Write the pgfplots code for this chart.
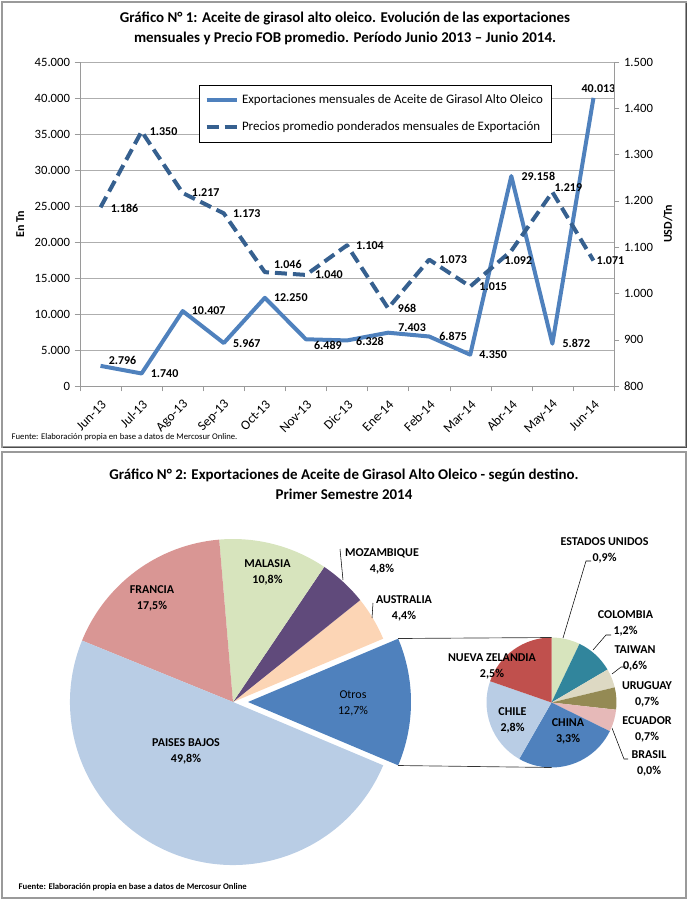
\documentclass[border=0pt]{standalone}
\usepackage{fontspec}
\setmainfont{Carlito}
\usepackage{pgfplots}
\pgfplotsset{compat=1.18}

\definecolor{cExp}{HTML}{4F81BD}
\definecolor{cPre}{HTML}{36608F}
\definecolor{cPB}{HTML}{B9CDE5}
\definecolor{cFra}{HTML}{D99694}
\definecolor{cMal}{HTML}{D7E4BD}
\definecolor{cMoz}{HTML}{604A7B}
\definecolor{cAus}{HTML}{FCD5B5}
\definecolor{cOtros}{HTML}{4F81BD}
\definecolor{cCol}{HTML}{31859C}
\definecolor{cTai}{HTML}{DDD9C3}
\definecolor{cUru}{HTML}{948A54}
\definecolor{cEcu}{HTML}{E6B9B8}
\definecolor{cNZ}{HTML}{C0504D}
\definecolor{cFrame}{HTML}{9A9A9A}

\tikzset{
  lab/.style={font=\bfseries\fontsize{9}{10}\selectfont, inner sep=0pt},
  plab/.style={font=\bfseries\fontsize{9}{12}\selectfont, align=center, inner sep=0pt},
  expline/.style={cExp, line width=3pt, line join=round},
  preline/.style={cPre, line width=3pt, line join=round, dash pattern=on 9pt off 4.5pt},
}
\pgfplotsset{
  lineaxis/.style={
    at={(60pt,386.25pt)}, anchor=south west, scale only axis,
    width=400.5pt, height=243pt, xmin=-0.5, xmax=12.5, clip=false,
    tick align=outside, major tick length=4pt, minor tick length=4pt,
    tick style={cFrame}, axis line style={cFrame, line width=0.6pt},
    scaled y ticks=false,
    tick label style={font=\fontsize{9.5}{11}\selectfont},
    yticklabel style={/pgf/number format/1000 sep={.}, /pgf/number format/assume math mode=true},
  },
}
% label: x, y, text, dx(px), dy(px, down)
\newcommand\lbl[5]{\node[lab, xshift={(#4)*0.75pt}, yshift={-(#5)*0.75pt}] at (axis cs:#1,#2) {#3};}

\begin{document}
\begin{tikzpicture}
\path[use as bounding box] (0,0) rectangle (516pt,675.75pt);

% canvas in pixel units: frames, titles and the pie of pie
\begin{axis}[at={(0pt,675.75pt)}, anchor=origin, x=0.75pt, y=0.75pt, y dir=reverse,
  xmin=0, xmax=688, ymin=0, ymax=901, hide axis, scale only axis, clip=false]
\draw[cFrame, line width=0.8pt] (2,2) rectangle (686,447);
\draw[black!70, line width=0.9pt] (3,447.5) -- (686.5,447.5) -- (686.5,3);
\draw[cFrame, line width=0.8pt] (2,452) rectangle (686,898);

\node[font=\bfseries\fontsize{11.2}{15}\selectfont, align=center] at (345,28)
  {Gráfico N° 1: Aceite de girasol alto oleico. Evolución de las exportaciones\\
   mensuales y Precio FOB promedio. Período Junio 2013 – Junio 2014.};
\node[anchor=west, font=\fontsize{6.5}{7}\selectfont] at (7,437)
  {Fuente: Elaboración propia en base a datos de Mercosur Online.};

\node[font=\bfseries\fontsize{11.2}{15}\selectfont, align=center] at (344,484)
  {Gráfico N° 2: Exportaciones de Aceite de Girasol Alto Oleico - según destino.\\
   Primer Semestre 2014};
\node[anchor=west, font=\bfseries\fontsize{6.5}{7}\selectfont] at (14,887)
  {Fuente: Elaboración propia en base a datos de Mercosur Online};

% main pie (percent), counter-clockwise from Otros, centred at 3 o'clock
\def\ang{-22.86}
\foreach \v/\c/\dx in {12.7/cOtros/15, 4.4/cAus/0, 4.8/cMoz/0, 10.8/cMal/0, 17.5/cFra/0, 49.8/cPB/0}{
  \pgfmathsetmacro\b{\ang+3.6*\v}
  \pgfmathsetmacro\cx{233+\dx}
  \edef\temp{\noexpand\fill[\c] (axis cs:\cx,702) -- ++(\ang:122.25pt)
    arc[start angle=\ang, end angle=\b, radius=122.25pt] -- cycle;}
  \temp
  \global\let\ang\b
}
% secondary pie (Otros = 12,7%), clockwise from 12 o'clock
\def\ang{90}
\foreach \v/\c in {0.9/cMal, 1.2/cCol, 0.6/cTai, 0.7/cUru, 0.7/cEcu, 0.0/cEcu, 3.3/cExp, 2.8/cPB, 2.5/cNZ}{
  \pgfmathsetmacro\b{\ang-360*\v/12.7}
  \edef\temp{\noexpand\fill[\c] (axis cs:551.5,702.5) -- ++(\ang:48.75pt)
    arc[start angle=\ang, end angle=\b, radius=48.75pt] -- cycle;}
  \temp
  \global\let\ang\b
}
% connectors and leader lines
\draw[black!80, line width=0.5pt] (398,638.5) -- (551.5,637.5);
\draw[black!80, line width=0.5pt] (398,765.5) -- (551.5,767.5);
\draw[black, line width=0.4pt] (340,549) -- (343,580);
\draw[black, line width=0.4pt] (373,603) -- (372,618);
\draw[black, line width=0.4pt] (563,638) -- (586,561) -- (591,561);
\draw[black, line width=0.4pt] (593,650) -- (606,635) -- (611,635);
\draw[black, line width=0.4pt] (612,674) -- (621,667) -- (626,667);
\draw[black, line width=0.4pt] (612,728) -- (624,759) -- (628,759);

% main pie labels
\node[plab] at (152,598) {FRANCIA\\17,5\%};
\node[plab] at (267.5,572) {MALASIA\\10,8\%};
\node[plab] at (382,561) {MOZAMBIQUE\\4,8\%};
\node[plab] at (404,608) {AUSTRALIA\\4,4\%};
\node[plab, font=\fontsize{9}{12}\selectfont] at (353,703) {Otros\\12,7\%};
\node[plab] at (186,751) {PAISES BAJOS\\49,8\%};
% secondary pie labels
\node[plab] at (604.5,550) {ESTADOS UNIDOS\\0,9\%};
\node[plab] at (625.5,623.5) {COLOMBIA\\1,2\%};
\node[plab] at (635,658) {TAIWAN\\0,6\%};
\node[plab] at (647,694) {URUGUAY\\0,7\%};
\node[plab] at (647,729) {ECUADOR\\0,7\%};
\node[plab] at (649,763.5) {BRASIL\\0,0\%};
\node[plab] at (492,666) {NUEVA ZELANDIA\\2,5\%};
\node[plab] at (512.5,720) {CHILE\\2,8\%};
\node[plab] at (568,731.5) {CHINA\\3,3\%};
\end{axis}

% exports, left axis
\begin{axis}[lineaxis,
  ymin=0, ymax=45000, ytick={0,5000,...,45000},
  axis y line*=left, axis x line*=bottom,
  ymajorgrids, grid style={cFrame!80, line width=0.5pt},
  xtick={0,...,12},
  xticklabels={Jun-13,Jul-13,Ago-13,Sep-13,Oct-13,Nov-13,Dic-13,Ene-14,Feb-14,Mar-14,Abr-14,May-14,Jun-14},
  major x tick style={draw=none},
  minor xtick={-0.5,0.5,...,12.5},
  xticklabel style={font=\fontsize{10}{11}\selectfont, xshift=5pt, yshift=-6pt, rotate=45, anchor=east},
  ylabel={En Tn}, ylabel style={font=\bfseries\fontsize{9}{10}\selectfont, anchor=center, at={(axis description cs:-0.112,0.5)}},
]
\addplot[expline] coordinates {
 (0,2796) (1,1740) (2,10407) (3,5967) (4,12250) (5,6489) (6,6328)
 (7,7403) (8,6875) (9,4350) (10,29158) (11,5872) (12,40013)};
\lbl{0}{2796}{2.796}{22}{-5}
\lbl{1}{1740}{1.740}{23}{0}
\lbl{2}{10407}{10.407}{26}{0}
\lbl{3}{5967}{5.967}{23}{0}
\lbl{4}{12250}{12.250}{26}{0}
\lbl{5}{6489}{6.489}{22}{6}
\lbl{6}{6328}{6.328}{23}{1}
\lbl{7}{7403}{7.403}{24}{-5}
\lbl{8}{6875}{6.875}{24}{0}
\lbl{9}{4350}{4.350}{23}{0}
\lbl{10}{29158}{29.158}{27}{0}
\lbl{11}{5872}{5.872}{24}{0}
\lbl{12}{40013}{40.013}{5}{-9}
\end{axis}

% prices, right axis
\begin{axis}[lineaxis,
  ymin=800, ymax=1500, ytick={800,900,...,1500},
  axis y line*=right, axis x line=none,
  ylabel={USD/Tn}, ylabel style={font=\bfseries\fontsize{9}{10}\selectfont, anchor=center, at={(axis description cs:1.101,0.5)}},
  legend style={at={(0.2228,0.929)}, anchor=north west, draw=black, line width=0.6pt,
    font=\fontsize{9.7}{11}\selectfont, inner xsep=4pt, inner ysep=5pt, row sep=8pt},
  legend cell align=left,
  legend image code/.code={\draw[#1] (0pt,0pt) -- (23pt,0pt);},
]
\addlegendimage{expline}
\addlegendentry{Exportaciones mensuales de Aceite de Girasol Alto Oleico}
\addplot[preline] coordinates {
 (0,1186) (1,1350) (2,1217) (3,1173) (4,1046) (5,1040) (6,1104)
 (7,968) (8,1073) (9,1015) (10,1092) (11,1219) (12,1071)};
\addlegendentry{Precios promedio ponderados mensuales de Exportación}
\lbl{0}{1186}{1.186}{24}{1}
\lbl{1}{1350}{1.350}{22}{0}
\lbl{2}{1217}{1.217}{23}{0}
\lbl{3}{1173}{1.173}{23}{0}
\lbl{4}{1046}{1.046}{23}{-8}
\lbl{5}{1040}{1.040}{23}{0}
\lbl{6}{1104}{1.104}{23}{0}
\lbl{7}{968}{968}{19}{0}
\lbl{8}{1073}{1.073}{24}{0}
\lbl{9}{1015}{1.015}{23}{0}
\lbl{10}{1092}{1.092}{7}{10}
\lbl{11}{1219}{1.219}{16}{-4}
\lbl{12}{1071}{1.071}{17}{0}
\end{axis}
\end{tikzpicture}
\end{document}
